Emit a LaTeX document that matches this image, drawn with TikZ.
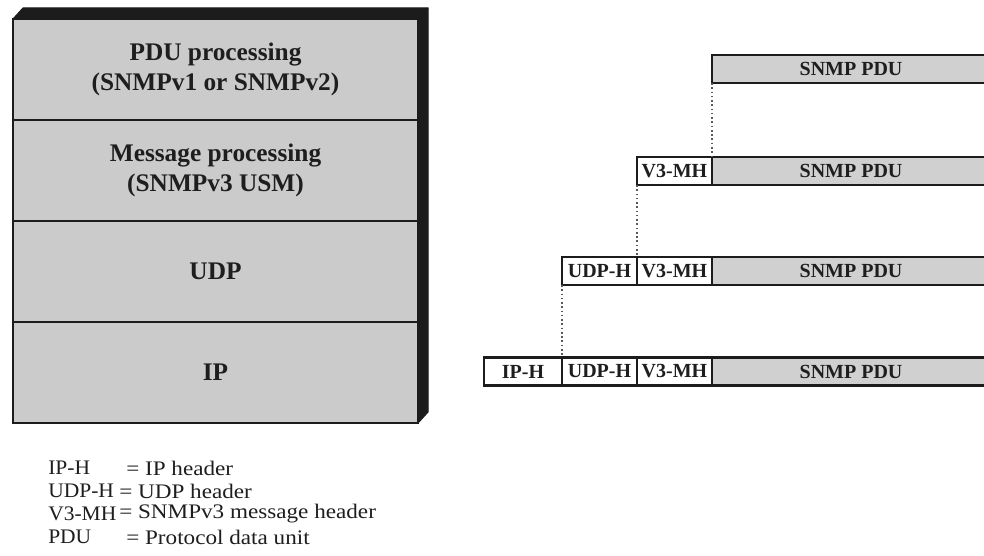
\documentclass[tikz,border=0pt]{standalone}
\usepackage{fontspec}
\setmainfont{Liberation Serif}
\newfontfamily\abbrfont{Liberation Serif}[FakeStretch=1.04]
\newfontfamily\deffont{Liberation Serif}[FakeStretch=1.12]
\usepackage{xcolor}
\usepackage{tikz}
\usetikzlibrary{positioning, calc}

\definecolor{layerfill}{RGB}{203,203,203}
\definecolor{pdufill}{RGB}{208,208,208}
\definecolor{edgecol}{RGB}{28,28,28}
\definecolor{textcol}{RGB}{30,30,30}

\tikzset{
    layer/.style={draw=edgecol, line width=1.4pt, fill=layerfill, text=textcol,
        minimum width=303.75pt, minimum height=75.75pt, outer sep=0pt, inner sep=0pt,
        align=center, font=\fontsize{19}{22}\selectfont\bfseries},
    field/.style={draw=edgecol, line width=1.7pt, text=textcol, outer sep=0pt, inner sep=0pt,
        minimum height=21pt, font=\fontsize{15}{17}\selectfont\bfseries},
    hdr/.style={field, fill=white, minimum width=56.25pt},
    pdu/.style={field, fill=pdufill, minimum width=208.5pt},
    link/.style={draw=gray!70!black, line width=1.2pt, dotted},
    abbr/.style={anchor=west, inner sep=0pt, text=textcol, font=\fontsize{15.5}{17}\abbrfont},
    defn/.style={anchor=west, inner sep=0pt, text=textcol, font=\fontsize{15.5}{17}\deffont},
}

\begin{document}
\begin{tikzpicture}[x=0.75pt, y=-0.75pt]
    \clip (0,0) rectangle (984,556);
    \fill[white] (0,0) rectangle (984,556);

    % Protocol stack
    \node[layer] (pdulayer) at (215.5,69.5) {PDU processing\\(SNMPv1 or SNMPv2)};
    \node[layer, below=0pt of pdulayer] (msglayer) {Message processing\\(SNMPv3 USM)};
    \node[layer, below=0pt of msglayer] (udplayer) {UDP};
    \node[layer, below=0pt of udplayer] (iplayer) {IP};

    % 3-D edges
    \filldraw[edgecol, line width=0.8pt, line join=round] (pdulayer.north west) -- ([shift={(10,-11)}]pdulayer.north west)
        -- ([shift={(10,-11)}]pdulayer.north east) -- (pdulayer.north east) -- cycle;
    \filldraw[edgecol, line width=0.8pt, line join=round] (pdulayer.north east) -- ([shift={(10,-11)}]pdulayer.north east)
        -- ([shift={(10,-11)}]iplayer.south east) -- (iplayer.south east) -- cycle;

    % Encapsulation rows
    \node[pdu, anchor=west] (pdu1) at (712,69) {SNMP PDU};

    \node[hdr, anchor=west] (v3mh2) at (637,171) {V3-MH};
    \node[pdu, right=0pt of v3mh2] (pdu2) {SNMP PDU};

    \node[hdr, anchor=west] (udph3) at (562,271) {UDP-H};
    \node[hdr, right=0pt of udph3] (v3mh3) {V3-MH};
    \node[pdu, right=0pt of v3mh3] (pdu3) {SNMP PDU};

    \node[hdr, anchor=west, minimum width=58.5pt] (iph4) at (484,371.5) {IP-H};
    \node[hdr, right=0pt of iph4] (udph4) {UDP-H};
    \node[hdr, right=0pt of udph4] (v3mh4) {V3-MH};
    \node[pdu, right=0pt of v3mh4] (pdu4) {SNMP PDU};

    % Dotted guides
    \draw[link] (pdu1.south west) -- (pdu2.north west);
    \draw[link] (v3mh2.south west) -- (v3mh3.north west);
    \draw[link] (udph3.south west) -- (udph4.north west);

    % Legend
    \node[abbr] (abbr1) at (48,468) {IP-H};
    \node[abbr] (abbr2) at (48,491) {UDP-H};
    \node[abbr] (abbr3) at (48,514) {V3-MH};
    \node[abbr] (abbr4) at (48,537) {PDU};
    \node[defn] (def1) at (126,468) {= IP header};
    \node[defn] (def2) at (119,491) {= UDP header};
    \node[defn] (def3) at (119,514) {= SNMPv3 message header};
    \node[defn] (def4) at (126,537) {= Protocol data unit};
\end{tikzpicture}
\end{document}
